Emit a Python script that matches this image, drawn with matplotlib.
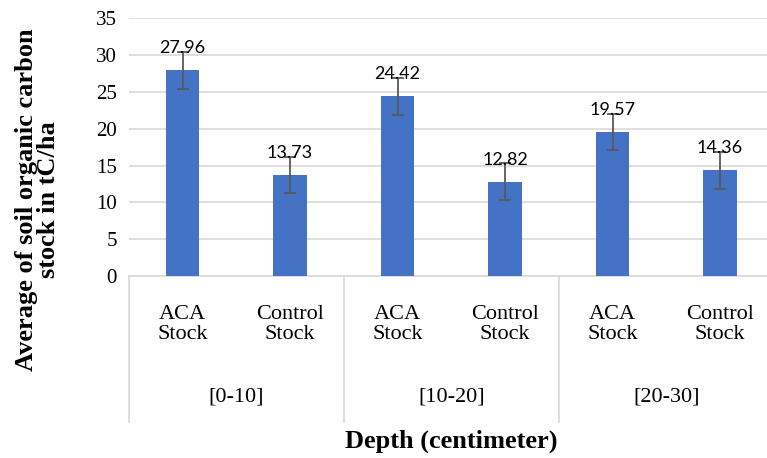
import matplotlib
matplotlib.use('Agg')
import matplotlib.pyplot as plt
import matplotlib.transforms as mtransforms
import numpy as np

# values
depths = ['[0-10]', '[10-20]', '[20-30]']
series = ['ACA\nStock', 'Control\nStock']
stock = [27.96, 13.73, 24.42, 12.82, 19.57, 14.36]
errors = [2.5, 2.5, 2.5, 2.5, 2.5, 2.5]
y_ticks = [0, 5, 10, 15, 20, 25, 30, 35]

SERIF = 'Liberation Serif'
plt.rcParams['font.family'] = SERIF

fig = plt.figure(figsize=(7.67, 4.58), dpi=100)
# axes runs a bit past the right edge, as in the reference
ax = fig.add_axes([128.75 / 767, (458 - 276) / 458, 645 / 767, 257.7 / 458])

x = np.arange(len(stock))
ax.bar(x, stock, width=0.31, color='#4472C4', zorder=3)
ax.errorbar(x, stock, yerr=errors, fmt='none', ecolor='#595959',
            elinewidth=1.3, capsize=4, capthick=1.3, zorder=4)

for xi, v in zip(x, stock):
    ax.annotate('%.2f' % v, (xi, v), xytext=(0, 10), textcoords='offset points',
                ha='center', va='bottom', fontsize=13, family='Lato',
                color='#000000', zorder=5)

ax.set_xlim(-0.5, len(stock) - 0.5)
ax.set_ylim(0, 35)
ax.set_yticks(y_ticks)
ax.set_yticklabels([str(t) for t in y_ticks], family=SERIF, fontsize=15)
ax.tick_params(axis='y', length=0, pad=8.5)
ax.set_xticks([])
ax.yaxis.grid(True, color='#d9d9d9', linewidth=1.2, zorder=0)
for s in ['top', 'right', 'left']:
    ax.spines[s].set_visible(False)
ax.spines['bottom'].set_color('#d9d9d9')
ax.spines['bottom'].set_linewidth(1.2)

trans = mtransforms.blended_transform_factory(ax.transData, ax.transAxes)

# category labels
for i, xi in enumerate(x):
    ax.text(xi, -0.188, series[i % 2], transform=trans, ha='center', va='center',
            fontsize=16, family=SERIF, linespacing=1.1)

# depth group labels and separators
for g, name in enumerate(depths):
    ax.text(2 * g + 0.5, -0.470, name, transform=trans, ha='center', va='center',
            fontsize=16, family=SERIF)
for b in [-0.5, 1.5, 3.5, 5.5]:
    ax.plot([b, b], [0, -0.567], transform=trans, color='#d9d9d9',
            linewidth=1.2, clip_on=False)

ax.text(0.5, -0.640, 'Depth (centimeter)', transform=ax.transAxes, ha='center',
        va='center', fontsize=19, fontweight='bold', family=SERIF)
ax.text(-0.142, 0.295, 'Average of soil organic carbon\nstock in tC/ha',
        transform=ax.transAxes, rotation=90, ha='center', va='center',
        multialignment='center', fontsize=19, fontweight='bold', family=SERIF,
        linespacing=0.95)

plt.savefig('out.png', dpi=100)
